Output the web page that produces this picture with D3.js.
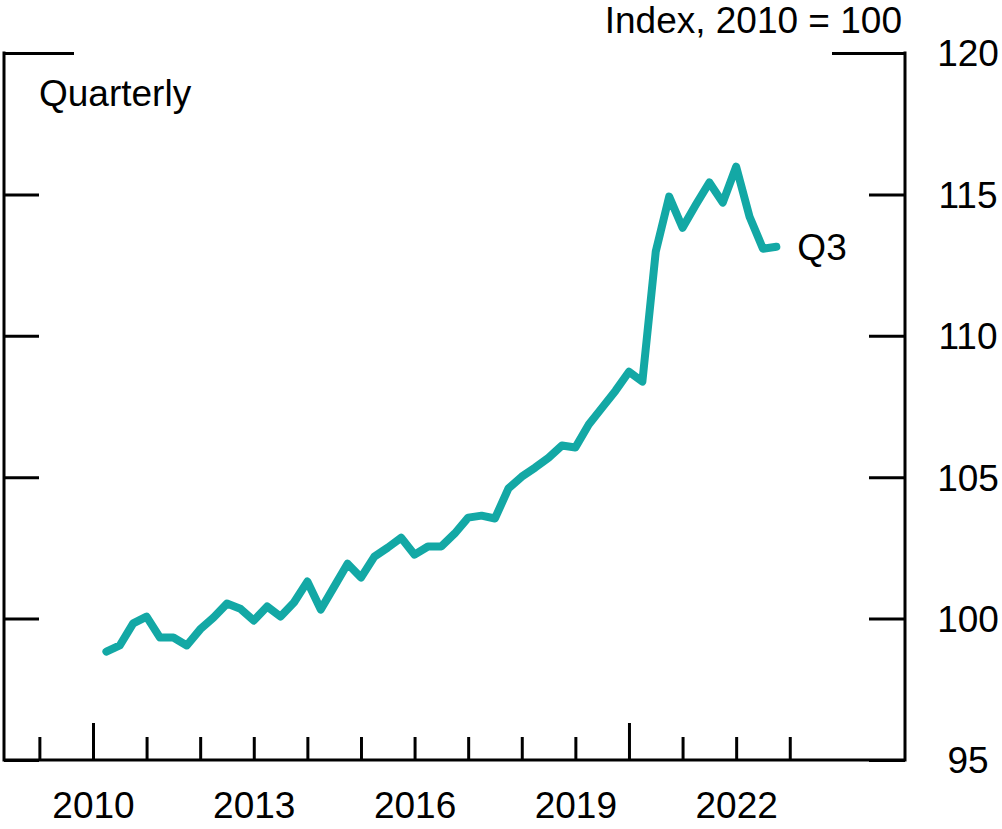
<!DOCTYPE html>
<html>
<head>
<meta charset="utf-8">
<script src="https://cdn.jsdelivr.net/npm/d3@7"></script>
<style>
  html, body { margin: 0; padding: 0; background: #fff; }
  svg { display: block; font-family: "Liberation Sans", Arial, Helvetica, sans-serif; }
  .frame { stroke: #000; stroke-width: 3; fill: none; }
  .axis path { display: none; }
  .axis line { stroke: #000; stroke-width: 3; }
  .axis text { font-size: 37px; fill: #000; }
</style>
</head>
<body>
<svg width="1002" height="829"></svg>
<script>
'use strict';

// data: quarterly index, 2010Q1 .. 2022Q3
const startYear = 2010;
const values = [
  98.83, 99.05, 99.83, 100.07,
  99.33, 99.33, 99.05, 99.62,
  100.04, 100.53, 100.35, 99.93,
  100.43, 100.07, 100.57, 101.31,
  100.32, 101.13, 101.94, 101.45,
  102.19, 102.51, 102.86, 102.26,
  102.55, 102.55, 103.01, 103.57,
  103.64, 103.54, 104.60, 105.02,
  105.34, 105.69, 106.12, 106.05,
  106.86, 107.46, 108.06, 108.73,
  108.38, 112.98, 114.92, 113.82,
  114.64, 115.42, 114.71, 115.98,
  114.21, 113.08, 113.15
];
const xTickYears = d3.range(2009, 2024);
const xLabelYears = [2010, 2013, 2016, 2019, 2022];
const xLongTicks = [2010, 2020];
const yTicks = [95, 100, 105, 110, 115, 120];

// quarter i plotted at end of quarter
const points = values.map((v, i) => ({ t: startYear + (i + 1) * 0.25, v: v }));

const svg = d3.select("svg");
const plotLeft = 4, plotRight = 905, plotTop = 53, plotBottom = 760;

const x = d3.scaleLinear().domain([2008.34, 2025.15]).range([plotLeft, plotRight]);
const y = d3.scaleLinear().domain([95, 120]).range([plotBottom, plotTop]);

// x axis, ticks pointing up
const xAxis = svg.append("g")
  .attr("class", "axis")
  .attr("transform", `translate(0,${plotBottom})`)
  .call(d3.axisBottom(x)
    .tickValues(xTickYears)
    .tickSize(-23)
    .tickPadding(32)
    .tickFormat(d => xLabelYears.includes(d) ? String(d) : ""));
xAxis.selectAll(".tick line")
  .attr("y2", d => xLongTicks.includes(d) ? -37 : -23);
xAxis.selectAll("text").attr("dy", "0.71em");

// right axis, ticks pointing in
const yAxisR = svg.append("g")
  .attr("class", "axis")
  .attr("transform", `translate(${plotRight},0)`)
  .call(d3.axisRight(y).tickValues(yTicks).tickSize(-36).tickPadding(0));
yAxisR.selectAll(".tick line").attr("x2", d => d === 120 ? -73 : -36);
yAxisR.selectAll("text")
  .attr("x", 63)
  .attr("text-anchor", "middle")
  .attr("dy", "0.35em");

// left ticks, mirror
const yAxisL = svg.append("g")
  .attr("class", "axis")
  .attr("transform", `translate(${plotLeft},0)`)
  .call(d3.axisLeft(y).tickValues(yTicks).tickSize(-35).tickFormat(""));
yAxisL.selectAll(".tick line").attr("x2", d => d === 120 ? 70 : 35);

// frame sides and bottom
svg.append("path")
  .attr("class", "frame")
  .attr("d", `M${plotLeft},${plotTop - 1.5}V${plotBottom}H${plotRight}V${plotTop - 1.5}`);

// line
const line = d3.line().x(d => x(d.t)).y(d => y(d.v));
svg.append("path")
  .datum(points)
  .attr("fill", "none")
  .attr("stroke", "#13a8a5")
  .attr("stroke-width", 8)
  .attr("stroke-linejoin", "round")
  .attr("stroke-linecap", "round")
  .attr("d", line);

// labels
const last = points[points.length - 1];
svg.append("text")
  .attr("x", x(last.t) + 21)
  .attr("y", y(last.v))
  .attr("dy", "0.35em")
  .style("font-size", "37px")
  .text("Q3");

svg.append("text")
  .attr("x", 902)
  .attr("y", 33)
  .attr("text-anchor", "end")
  .style("font-size", "37px")
  .text("Index, 2010 = 100");

svg.append("text")
  .attr("x", 39)
  .attr("y", 106)
  .style("font-size", "37px")
  .text("Quarterly");
</script>
</body>
</html>
